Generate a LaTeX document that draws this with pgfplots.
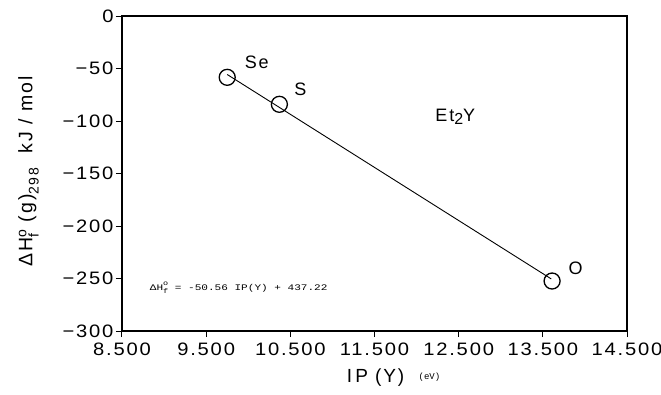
\documentclass[border=0pt]{standalone}
\usepackage{fontspec}
\setmainfont{Liberation Sans}
\newfontfamily\tickfont{Liberation Sans}[LetterSpace=10,FakeStretch=1.12]
\newfontfamily\labfont{Liberation Sans}[LetterSpace=10]
\newfontfamily\eqfont{Liberation Mono}
\usepackage{pgfplots}
\pgfplotsset{compat=1.18}
\newcommand{\supsub}[3]{\raisebox{#3}{\fontsize{#1}{#1}\selectfont\shortstack[l]{#2}}}
\begin{document}
\begin{tikzpicture}
\path[use as bounding box] (0,0) rectangle (661pt,394pt);
\begin{axis}[at={(122pt,63pt)}, anchor=south west, scale only axis,
  width=505pt, height=315pt,
  xmin=8.5, xmax=14.5, ymin=-300, ymax=0,
  xtick={8.5,9.5,10.5,11.5,12.5,13.5,14.5},
  xticklabels={8.500,9.500,10.500,11.500,12.500,13.500,14.500},
  ytick={-300,-250,-200,-150,-100,-50,0},
  yticklabels={−300,−250,−200,−150,−100,−50,0},
  axis line style={line width=1.1pt},
  tick style={line width=1pt, black},
  major tick length=6pt, tick align=outside,
  xtick pos=left, ytick pos=left,
  ticklabel style={font=\tickfont\fontsize{18}{18}\selectfont},
  yticklabel style={xshift=1pt},
  xticklabel style={yshift=-2pt},
  clip=false]
\addplot[black, line width=0.9pt] coordinates {(9.75,-55.7) (13.60,-250.4)};
\addplot[only marks, mark=o, mark size=8pt, black, mark options={line width=1.3pt}]
  coordinates {(9.75,-58.4) (10.37,-84.1) (13.61,-252.4)};
\node[font=\labfont\fontsize{18}{18}\selectfont] at (axis cs:10.10,-44) {Se};
\node[font=\labfont\fontsize{18}{18}\selectfont] at (axis cs:10.62,-70) {S};
\node[font=\labfont\fontsize{18}{18}\selectfont] at (axis cs:13.89,-240) {O};
\node[font=\labfont\fontsize{18}{18}\selectfont] at (axis cs:12.46,-96) {Et\raisebox{-0.4ex}{\fontsize{16}{16}\selectfont 2}Y};
\node[anchor=west, inner sep=0pt] at (axis cs:8.83,-259)
  {\scalebox{1.3}[1]{\eqfont\fontsize{8.5}{8.5}\selectfont ΔH\supsub{6.5}{o\\[0.5pt]f}{-0.7ex} = -50.56 IP(Y) + 437.22}};
\node[rotate=90, font=\labfont\fontsize{19.5}{19.5}\selectfont] at (axis cs:7.39,-148)
  {ΔH\supsub{14}{o\\[-1pt]f}{-0.6ex}\ (g)\raisebox{-0.6ex}{\fontsize{14}{14}\selectfont 298}\ \ kJ / mol};
\node[anchor=west, font=\labfont\fontsize{19}{19}\selectfont] at (axis cs:11.13,-344.8)
  {I\,P\ (Y)\ \ \raisebox{0.3ex}{\eqfont\fontsize{9}{9}\selectfont (eV)}};
\end{axis}
\end{tikzpicture}
\end{document}
